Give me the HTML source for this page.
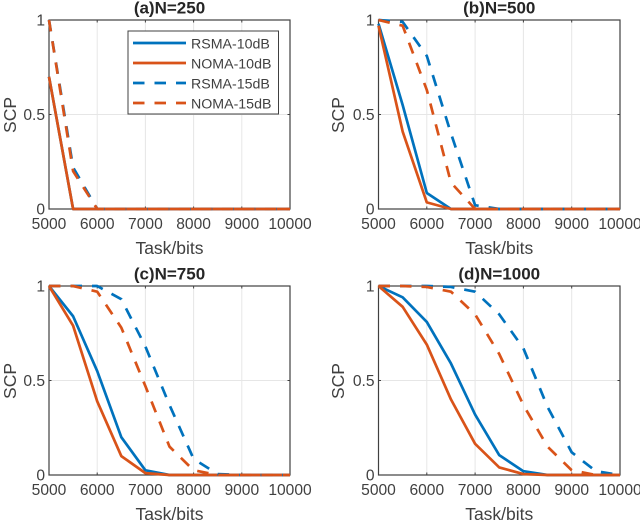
<!DOCTYPE html>
<html>
<head>
<meta charset="utf-8">
<style>
html,body{margin:0;padding:0;background:#fff;width:640px;height:523px;overflow:hidden}
svg{display:block;position:absolute;left:0;top:0;filter:blur(0.35px)}
text{font-family:"Liberation Sans",sans-serif;fill:#404040}
</style>
</head>
<body>
<svg id="figure" width="640" height="523" viewBox="0 0 640 523" xmlns="http://www.w3.org/2000/svg"></svg>
<script>
const xValues = [5000,5500,6000,6500,7000,7500,8000,8500,9000,9500,10000];
const xTicks = [5000,6000,7000,8000,9000,10000];
const yTicks = [0,0.5,1];
const panelTitles = ['(a)N=250','(b)N=500','(c)N=750','(d)N=1000'];
const seriesNames = ['RSMA-10dB','NOMA-10dB','RSMA-15dB','NOMA-15dB'];

const rsma10A = [0.7,0,0,0,0,0,0,0,0,0,0];
const noma10A = [0.7,0,0,0,0,0,0,0,0,0,0];
const rsma15A = [1,0.22,0,0,0,0,0,0,0,0,0];
const noma15A = [1,0.2,0,0,0,0,0,0,0,0,0];

const rsma10B = [0.98,0.55,0.085,0,0,0,0,0,0,0,0];
const noma10B = [0.97,0.41,0.035,0,0,0,0,0,0,0,0];
const rsma15B = [1,0.99,0.81,0.4,0.02,0,0,0,0,0,0];
const noma15B = [1,0.97,0.63,0.14,0,0,0,0,0,0,0];

const rsma10C = [1,0.84,0.55,0.2,0.025,0,0,0,0,0,0];
const noma10C = [1,0.79,0.39,0.1,0.01,0,0,0,0,0,0];
const rsma15C = [1,1,1,0.93,0.68,0.37,0.085,0.005,0,0,0];
const noma15C = [1,1,0.97,0.78,0.47,0.15,0.025,0,0,0,0];

const rsma10D = [1,0.94,0.81,0.59,0.32,0.105,0.02,0,0,0,0];
const noma10D = [1,0.89,0.69,0.4,0.165,0.04,0.005,0,0,0,0];
const rsma15D = [1,1,1,0.995,0.97,0.85,0.67,0.36,0.12,0.02,0];
const noma15D = [1,1,0.995,0.97,0.85,0.64,0.37,0.15,0.025,0,0];

const panelSeries = [
  [rsma10A,noma10A,rsma15A,noma15A],
  [rsma10B,noma10B,rsma15B,noma15B],
  [rsma10C,noma10C,rsma15C,noma15C],
  [rsma10D,noma10D,rsma15D,noma15D]
];
const boxes = [
  {l:49,r:290,t:20,b:209,yt:33},
  {l:378.5,r:620,t:20,b:209,yt:34.5},
  {l:49,r:290,t:286,b:475,yt:33},
  {l:378.5,r:620,t:286,b:475,yt:34.5}
];
const colors = ['#0072BD','#D95319','#0072BD','#D95319'];
const dashes = ['', '', '11.5 10', '11.5 10'];
const NS = 'http://www.w3.org/2000/svg';
const root = document.getElementById('figure');

function make(parent, tag, attrs, content){
  const el = document.createElementNS(NS, tag);
  for (const k in attrs) el.setAttribute(k, attrs[k]);
  if (content !== undefined) el.textContent = content;
  parent.appendChild(el);
  return el;
}
function xScale(box, v){ return box.l + (v - 5000) / 5000 * (box.r - box.l); }
function yScale(box, v){ return box.b - v * (box.b - box.t); }

boxes.forEach(function(box, p){
  const g = make(root, 'g', {});
  
  

  xTicks.forEach(function(t){
    const x = xScale(box, t);
    const grid = make(g, 'line', {x1:x,x2:x,y1:box.t,y2:box.b,stroke:'#e6e6e6','stroke-width':1});
    
    
    const tick = make(g, 'line', {x1:x,x2:x,y1:box.b,y2:box.b-2.5,stroke:'#404040','stroke-width':1});
    
    
    const top = make(g, 'line', {x1:x,x2:x,y1:box.t,y2:box.t+2.5,stroke:'#404040','stroke-width':1});
    
    
    const label = make(g, 'text', {x:x,y:box.b+20,'text-anchor':'middle','font-size':15.6}, String(t));
    
    
  });
  yTicks.forEach(function(t){
    const y = yScale(box, t);
    const grid = make(g, 'line', {x1:box.l,x2:box.r,y1:y,y2:y,stroke:'#e6e6e6','stroke-width':1});
    
    
    const tick = make(g, 'line', {x1:box.l,x2:box.l+2.5,y1:y,y2:y,stroke:'#404040','stroke-width':1});
    
    
    const right = make(g, 'line', {x1:box.r,x2:box.r-2.5,y1:y,y2:y,stroke:'#404040','stroke-width':1});
    
    
    const label = make(g, 'text', {x:box.l-4,y:y+5.5,'text-anchor':'end','font-size':15.6}, String(t));
    
    
  });

  const frame = make(g, 'rect', {x:box.l,y:box.t,width:box.r-box.l,height:box.b-box.t,fill:'none',stroke:'#404040','stroke-width':1.2});
  
  

  panelSeries[p].forEach(function(values, s){
    const pts = values.map(function(v, i){
      return xScale(box, xValues[i]).toFixed(2) + ',' + yScale(box, v).toFixed(2);
    }).join(' ');
    const attrs = {points:pts,fill:'none',stroke:colors[s],'stroke-width':2.7,'stroke-linejoin':'round'};
    if (dashes[s]) attrs['stroke-dasharray'] = dashes[s];
    const line = make(g, 'polyline', attrs);
    
    
  });

  const cx = (box.l + box.r) / 2;
  const title = make(g, 'text', {x:cx,y:box.t-6.5,'text-anchor':'middle','font-size':17,'font-weight':'bold',style:'fill:#262626'}, panelTitles[p]);
  
  
  const xTitle = make(g, 'text', {x:cx,y:box.b+45,'text-anchor':'middle','font-size':17.5}, 'Task/bits');
  
  
  const my = (box.t + box.b) / 2 + 0.5;
  const yx = box.l - box.yt;
  const yTitle = make(g, 'text', {x:yx,y:my,'text-anchor':'middle','font-size':17.5,transform:'rotate(-90 '+yx+' '+my+')'}, 'SCP');
  
  
});

const legend = make(root, 'g', {});


const legendBox = make(legend, 'rect', {x:128,y:31,width:150.5,height:83,fill:'#fff',stroke:'#404040','stroke-width':1});


seriesNames.forEach(function(name, s){
  const y = 43 + s * 20;
  const attrs = {x1:133,x2:186,y1:y,y2:y,stroke:colors[s],'stroke-width':2.7};
  if (dashes[s]) attrs['stroke-dasharray'] = dashes[s];
  const key = make(legend, 'line', attrs);
  
  
  const label = make(legend, 'text', {x:191,y:y+5.5,'font-size':14.2}, name);
  
  
});
</script>
</body>
</html>
